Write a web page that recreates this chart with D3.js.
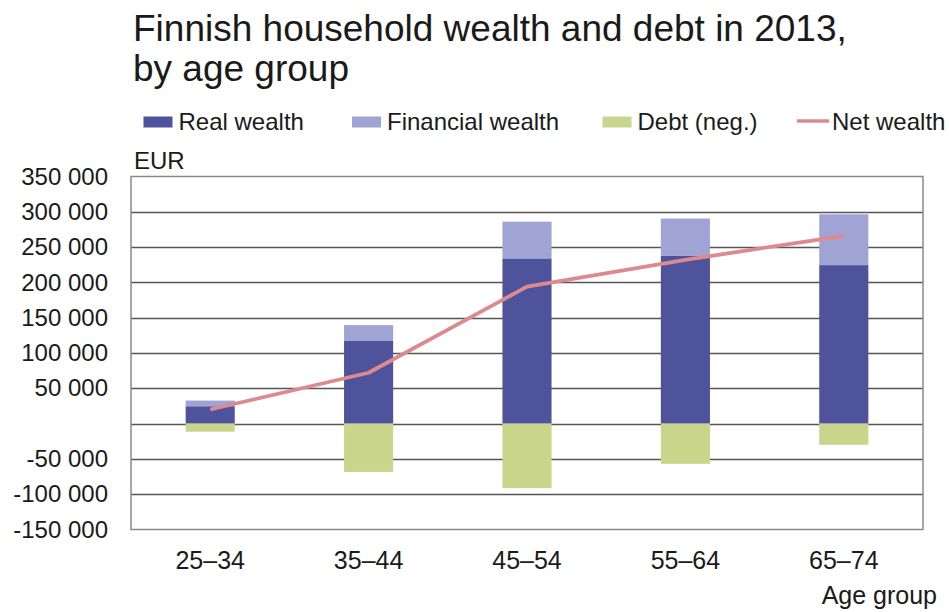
<!DOCTYPE html>
<html>
<head>
<meta charset="utf-8">
<script src="https://cdn.jsdelivr.net/npm/d3@7"></script>
<style>
  html, body { margin: 0; padding: 0; background: #ffffff; }
  svg { display: block; }
  text { font-family: "Liberation Sans", Arial, Helvetica, sans-serif; fill: #1a1a1a; }
</style>
</head>
<body>
<svg id="chart" width="949" height="612"></svg>
<script>
// ---- data ----
const categories = ["25–34", "35–44", "45–54", "55–64", "65–74"];
const realWealth = [24600, 117000, 234000, 237500, 224500];
const financialWealth = [8000, 22500, 52000, 53000, 72000];
const debt = [-11500, -68500, -91500, -57000, -30000];
const netWealth = [20000, 72000, 194000, 232000, 266000];
const yTicks = [350000, 300000, 250000, 200000, 150000, 100000, 50000, -50000, -100000, -150000];
const seriesNames = ["Real wealth", "Financial wealth", "Debt (neg.)", "Net wealth"];
const titleLines = ["Finnish household wealth and debt in 2013,", "by age group"];

// ---- styles ----
const colors = {
  real: "#4f539c",
  financial: "#a0a4d4",
  debt: "#c9d58b",
  net: "#dd8a8f"
};

const svg = d3.select("#chart");
const plot = { left: 131, right: 923, top: 176.5, bottom: 529.5 };

const x = d3.scaleBand()
  .domain(categories)
  .range([plot.left, plot.right])
  .paddingInner(0.69)
  .paddingOuter(0.345);

const y = d3.scaleLinear()
  .domain([-150000, 350000])
  .range([plot.bottom, plot.top]);

const fmt = v => {
  const s = d3.format(",")(Math.abs(v)).replace(/,/g, " ");
  return (v < 0 ? "-" : "") + s;
};

// title
svg.append("g").selectAll("text")
  .data(titleLines)
  .join("text")
  .attr("x", 133)
  .attr("y", (d, i) => 41 + i * 40)
  .attr("font-size", 37)
  .text(d => d);

// legend
const legendX = [143.5, 352, 602.5, 797];
const legend = svg.append("g");
seriesNames.forEach((name, i) => {
  const g = legend.append("g").attr("transform", `translate(${legendX[i]},0)`);
  if (i < 3) {
    g.append("rect")
      .attr("x", 0).attr("y", 116.5)
      .attr("width", 29).attr("height", 11)
      .attr("fill", [colors.real, colors.financial, colors.debt][i]);
  } else {
    g.append("line")
      .attr("x1", 0).attr("x2", 32)
      .attr("y1", 121).attr("y2", 121)
      .attr("stroke", colors.net).attr("stroke-width", 3.5);
  }
  g.append("text")
    .attr("x", 35)
    .attr("y", 129.5)
    .attr("font-size", 24)
    .text(name);
});

// EUR label
svg.append("text")
  .attr("x", 134).attr("y", 168.5)
  .attr("font-size", 24)
  .text("EUR");

// gridlines
svg.append("g").selectAll("line")
  .data(y.ticks(10).filter(t => t > -150000 && t < 350000))
  .join("line")
  .attr("x1", plot.left).attr("x2", plot.right)
  .attr("y1", d => Math.round(y(d)) + 0.5).attr("y2", d => Math.round(y(d)) + 0.5)
  .attr("stroke", "#555555")
  .attr("stroke-width", 1.4);

// y axis labels (no zero)
const yAxis = d3.axisLeft(y)
  .tickValues(yTicks)
  .tickFormat(fmt)
  .tickSize(0)
  .tickPadding(23);
const yg = svg.append("g")
  .attr("transform", `translate(${plot.left},0)`)
  .call(yAxis);
yg.select(".domain").remove();
yg.selectAll("text")
  .attr("font-size", 24)
  .attr("font-family", "\"Liberation Sans\", Arial, sans-serif")
  .attr("fill", "#1a1a1a");

// bars
const bars = svg.append("g");
bars.selectAll("rect.real")
  .data(categories)
  .join("rect")
  .attr("class", "real")
  .attr("x", d => x(d))
  .attr("width", x.bandwidth())
  .attr("y", (d, i) => y(realWealth[i]))
  .attr("height", (d, i) => y(0) - y(realWealth[i]))
  .attr("fill", colors.real);

bars.selectAll("rect.fin")
  .data(categories)
  .join("rect")
  .attr("class", "fin")
  .attr("x", d => x(d))
  .attr("width", x.bandwidth())
  .attr("y", (d, i) => y(realWealth[i] + financialWealth[i]))
  .attr("height", (d, i) => y(realWealth[i]) - y(realWealth[i] + financialWealth[i]))
  .attr("fill", colors.financial);

bars.selectAll("rect.debt")
  .data(categories)
  .join("rect")
  .attr("class", "debt")
  .attr("x", d => x(d))
  .attr("width", x.bandwidth())
  .attr("y", y(0))
  .attr("height", (d, i) => y(debt[i]) - y(0))
  .attr("fill", colors.debt);

// plot border
svg.append("rect")
  .attr("x", plot.left).attr("y", plot.top)
  .attr("width", plot.right - plot.left)
  .attr("height", plot.bottom - plot.top)
  .attr("fill", "none")
  .attr("stroke", "#8a8a8a")
  .attr("stroke-width", 1.5);

// net wealth line
const line = d3.line()
  .x((d, i) => x(categories[i]) + x.bandwidth() / 2)
  .y(d => y(d));
svg.append("path")
  .datum(netWealth)
  .attr("d", line)
  .attr("fill", "none")
  .attr("stroke", colors.net)
  .attr("stroke-width", 3.8)
  .attr("stroke-linejoin", "round");

// x axis labels
const xAxis = d3.axisBottom(x).tickSize(0).tickPadding(0);
const xg = svg.append("g")
  .attr("transform", `translate(0,${plot.bottom})`)
  .call(xAxis);
xg.select(".domain").remove();
xg.selectAll("text")
  .attr("font-size", 25)
  .attr("font-family", "\"Liberation Sans\", Arial, sans-serif")
  .attr("fill", "#1a1a1a")
  .attr("dy", null)
  .attr("y", 39);

// axis title
svg.append("text")
  .attr("x", 937).attr("y", 603.5)
  .attr("text-anchor", "end")
  .attr("font-size", 25)
  .text("Age group");
</script>
</body>
</html>
